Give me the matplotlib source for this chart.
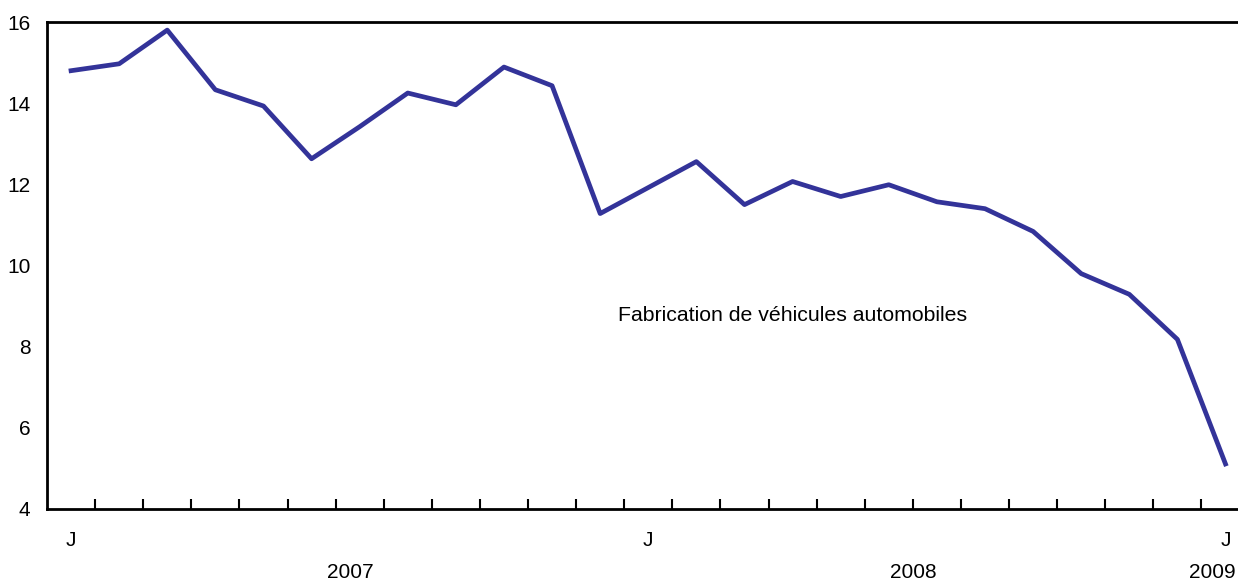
import matplotlib
matplotlib.use("Agg")
import matplotlib.pyplot as plt
import matplotlib.transforms as mtransforms
import numpy as np

plt.rcParams["font.family"] = ["Liberation Sans", "DejaVu Sans"]

# monthly values, January 2007 to January 2009
values = [14.80, 14.97, 15.80, 14.33, 13.93, 12.63, 13.42, 14.25, 13.96, 14.89,
          14.43, 11.28, 11.92, 12.56, 11.50, 12.07, 11.70, 11.99, 11.57, 11.40,
          10.84, 9.80, 9.29, 8.18, 5.11]
month_labels = ["J"] + [""] * 11 + ["J"] + [""] * 11 + ["J"]
years = ["2007", "2008", "2009"]
year_pos = [5.8, 17.5, 24.22]
year_align = ["center", "center", "right"]
series_label = "Fabrication de véhicules automobiles"

fig = plt.figure(figsize=(12.38, 5.84), dpi=100)
ax = fig.add_axes([47 / 1238, 1 - 509 / 584, 1 - 47 / 1238, (509 - 22) / 584])

x = np.arange(len(values))
ax.plot(x, values, color="#333399", linewidth=3.4)

ax.set_xlim(-0.5, 24.26)
ax.set_ylim(4, 16)
ax.set_yticks(range(4, 17, 2))
ax.tick_params(axis="y", length=0, labelsize=15, pad=12)

# ticks between months, pointing inward
ax.set_xticks(np.arange(0.5, 24, 1))
ax.set_xticklabels([])
ax.tick_params(axis="x", direction="in", length=7, width=1.5)

for side in ["left", "bottom", "top"]:
    ax.spines[side].set_linewidth(2)
ax.spines["right"].set_visible(False)

trans = mtransforms.blended_transform_factory(ax.transData, ax.transAxes)
off = lambda dy: trans + mtransforms.ScaledTranslation(0, dy / 100, fig.dpi_scale_trans)
for i, lab in enumerate(month_labels):
    if lab:
        ax.text(i, 0, lab, transform=off(-31), ha="center", va="center",
                fontsize=15, clip_on=False)
for yr, pos, ha in zip(years, year_pos, year_align):
    ax.text(pos, 0, yr, transform=off(-63), ha=ha, va="center",
            fontsize=15, clip_on=False)

ax.text(11.37, 8.77, series_label, ha="left", va="center", fontsize=15.3)

fig.savefig("out.png", dpi=100)
